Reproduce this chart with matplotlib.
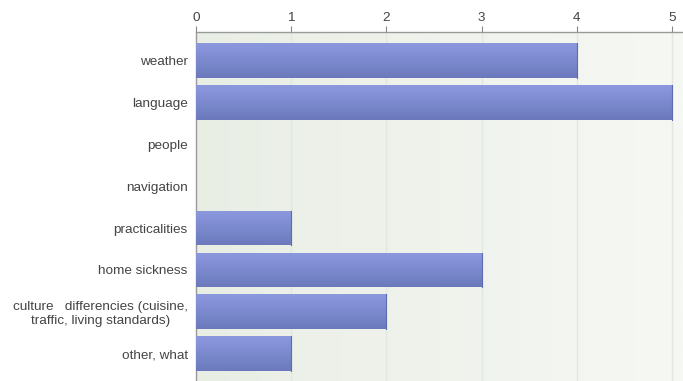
import numpy as np
import matplotlib.pyplot as plt
from matplotlib.colors import LinearSegmentedColormap

plt.rcParams['font.family'] = ['Liberation Sans', 'DejaVu Sans']

categories = ["weather", "language", "people", "navigation", "practicalities",
              "home sickness", "culture   differencies (cuisine,\ntraffic, living standards)",
              "other, what"]
counts = [4, 5, 0, 0, 1, 3, 2, 1]
ticks = [0, 1, 2, 3, 4, 5]

fig = plt.figure(figsize=(6.83, 3.81), dpi=100)
ax = fig.add_axes([196/683, 0.0, 487/683, 1 - 32/381])

xmax = 5.115
ymin, ymax = 7.65, -0.68

# background gradient
bg = np.linspace(0, 1, 256).reshape(1, -1)
bgmap = LinearSegmentedColormap.from_list("bg", ["#e9eee5", "#f6f8f4"])
ax.imshow(bg, cmap=bgmap, extent=[0, xmax, ymin, ymax], aspect="auto", zorder=0)

for t in ticks[1:]:
    ax.axvline(t, color="#e3e7e0", lw=1, zorder=1)

barmap = LinearSegmentedColormap.from_list("bar", ["#8c99df", "#6b79bc"])
grad = np.linspace(0, 1, 64).reshape(-1, 1)
y = np.arange(len(categories))
bars = ax.barh(y, counts, height=0.83, color="none", zorder=2)
for b, v in zip(bars, counts):
    if v == 0:
        continue
    x0, y0 = b.get_x(), b.get_y()
    w, h = b.get_width(), b.get_height()
    im = ax.imshow(grad, cmap=barmap, extent=[x0, x0 + w, y0 + h, y0],
                   aspect="auto", zorder=3)
    im.set_clip_path(b)
    ax.plot([x0 + w, x0 + w], [y0, y0 + h], color="#5e6bb0", lw=0.8, zorder=4)

ax.set_xlim(0, xmax)
ax.set_ylim(ymin, ymax)

ax.xaxis.tick_top()
ax.set_xticks(ticks)
ax.set_xticklabels([str(t) for t in ticks])
ax.set_yticks(y)
ax.set_yticklabels(categories, multialignment="center", linespacing=1.15)
ax.tick_params(axis="x", length=4, color="#888888", labelsize=9.7, labelcolor="#444444", pad=2)
ax.tick_params(axis="y", length=0, labelsize=9.7, labelcolor="#444444", pad=6)

for s in ["right", "bottom"]:
    ax.spines[s].set_visible(False)
for s in ["top", "left"]:
    ax.spines[s].set_color("#999999")
    ax.spines[s].set_linewidth(1)

fig.savefig("out.png", dpi=100)
